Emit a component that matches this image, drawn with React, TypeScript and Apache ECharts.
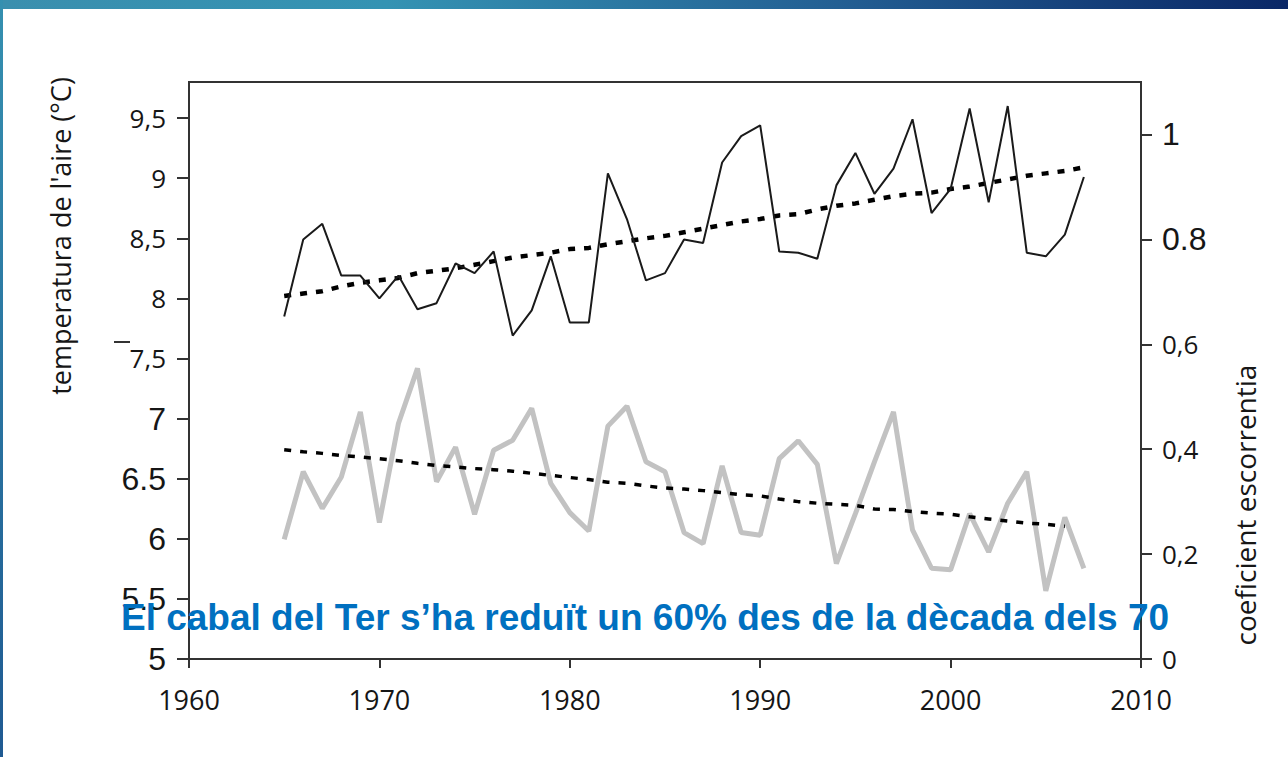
import React, { useEffect, useRef } from "react";
import * as echarts from "echarts";

const years = [
  1965, 1966, 1967, 1968, 1969, 1970, 1971, 1972, 1973, 1974, 1975, 1976, 1977, 1978, 1979,
  1980, 1981, 1982, 1983, 1984, 1985, 1986, 1987, 1988, 1989, 1990, 1991, 1992, 1993, 1994,
  1995, 1996, 1997, 1998, 1999, 2000, 2001, 2002, 2003, 2004, 2005, 2006, 2007,
];

// temperatura de l'aire (°C)
const temperature = [
  7.85, 8.49, 8.62, 8.19, 8.19, 8.0, 8.19, 7.91, 7.96, 8.29, 8.21, 8.39, 7.69, 7.9, 8.35,
  7.8, 7.8, 9.04, 8.66, 8.15, 8.21, 8.49, 8.46, 9.13, 9.35, 9.44, 8.39, 8.38, 8.33, 8.94,
  9.21, 8.87, 9.08, 9.49, 8.71, 8.91, 9.58, 8.8, 9.6, 8.38, 8.35, 8.53, 9.01,
];

const temperatureTrend = [
  8.02, 8.04, 8.06, 8.1, 8.13, 8.15, 8.17, 8.21, 8.23, 8.25, 8.28, 8.31, 8.34, 8.36, 8.38,
  8.41, 8.42, 8.45, 8.475, 8.5, 8.52, 8.55, 8.58, 8.61, 8.64, 8.66, 8.69, 8.7, 8.74, 8.77,
  8.79, 8.82, 8.85, 8.87, 8.88, 8.91, 8.93, 8.96, 8.99, 9.02, 9.04, 9.06, 9.09,
];

// coeficient escorrentia
const runoff = [
  0.228, 0.357, 0.287, 0.347, 0.471, 0.26, 0.449, 0.554, 0.338, 0.404, 0.276, 0.398, 0.417,
  0.478, 0.335, 0.279, 0.244, 0.444, 0.482, 0.376, 0.357, 0.241, 0.22, 0.368, 0.241, 0.236,
  0.382, 0.416, 0.371, 0.182, 0.277, 0.376, 0.471, 0.246, 0.173, 0.17, 0.277, 0.204, 0.297,
  0.357, 0.13, 0.27, 0.173,
];

const runoffTrend = [
  0.399, 0.395, 0.392, 0.388, 0.385, 0.382, 0.378, 0.373, 0.369, 0.366, 0.363, 0.361, 0.358,
  0.354, 0.35, 0.346, 0.342, 0.337, 0.335, 0.33, 0.326, 0.324, 0.321, 0.317, 0.313, 0.311,
  0.305, 0.3, 0.297, 0.295, 0.293, 0.286, 0.285, 0.281, 0.278, 0.276, 0.271, 0.267, 0.263,
  0.259, 0.257, 0.253,
];

const leftTicks = [5, 5.5, 6, 6.5, 7, 7.5, 8, 8.5, 9, 9.5];
const leftLabels: Record<string, string> = {
  "5.0": "{a|5}",
  "5.5": "{a|5.5}",
  "6.0": "{a|6}",
  "6.5": "{a|6.5}",
  "7.0": "{a|7}",
  "7.5": "{m|7,5}",
  "8.0": "{m|8}",
  "8.5": "{m|8,5}",
  "9.0": "{m|9}",
  "9.5": "{m|9,5}",
};
const rightTicks = [0, 0.2, 0.4, 0.6, 0.8, 1];
const rightLabels: Record<string, string> = {
  "0.0": "{m|0}",
  "0.2": "{m|0,2}",
  "0.4": "{m|0,4}",
  "0.6": "{m|0,6}",
  "0.8": "{a|0.8}",
  "1.0": "{a|1}",
};

const xTicks = [1960, 1970, 1980, 1990, 2000, 2010];

const leftAxisName = "temperatura de l'aire (°C)";
const rightAxisName = "coeficient escorrentia";
const headline = "El cabal del Ter s’ha reduït un 60% des de la dècada dels 70";

const AXIS_COLOR = "#333333";
const TEXT_COLOR = "#161616";

const rich = {
  a: { fontFamily: "Liberation Sans, Arial, sans-serif", fontSize: 32, color: TEXT_COLOR },
  m: { fontFamily: "Open Sans, sans-serif", fontSize: 26, color: TEXT_COLOR },
};

export default function App() {
  const ref = useRef<HTMLDivElement>(null);

  useEffect(() => {
    if (!ref.current) return;
    const chart = echarts.init(ref.current, undefined, { renderer: "svg" });

    const pair = (vals: number[]) => vals.map((v, i) => [years[i], v]);

    chart.setOption({
      animation: false,
      backgroundColor: "#ffffff",
      grid: {
        left: 189,
        right: 147,
        top: 82,
        bottom: 98,
        show: true,
        borderColor: AXIS_COLOR,
        borderWidth: 2,
        backgroundColor: "transparent",
      },
      xAxis: {
        type: "value",
        min: 1960,
        max: 2010,
        interval: 10,
        axisLine: { show: true, lineStyle: { color: AXIS_COLOR, width: 2 } },
        axisTick: { show: true, length: 9, lineStyle: { color: AXIS_COLOR, width: 2 }, customValues: xTicks },
        axisLabel: {
          customValues: xTicks,
          margin: 27,
          fontFamily: "Open Sans, sans-serif",
          fontSize: 27,
          color: TEXT_COLOR,
          formatter: (v: number) => String(v),
        },
        splitLine: { show: false },
      },
      yAxis: [
        {
          type: "value",
          position: "left",
          min: 5,
          max: 9.8,
          axisLine: { show: true, lineStyle: { color: AXIS_COLOR, width: 2 } },
          axisTick: { show: true, length: 12, lineStyle: { color: AXIS_COLOR, width: 2 }, customValues: leftTicks },
          axisLabel: {
            customValues: leftTicks,
            margin: 23,
            formatter: (v: number) => leftLabels[v.toFixed(1)] ?? "",
            rich,
          },
          splitLine: { show: false },
        },
        {
          type: "value",
          position: "right",
          min: 0,
          max: 1.1,
          axisLine: { show: true, lineStyle: { color: AXIS_COLOR, width: 2 } },
          axisTick: { show: true, length: 11, lineStyle: { color: AXIS_COLOR, width: 2 }, customValues: rightTicks },
          axisLabel: {
            customValues: rightTicks,
            margin: 21,
            formatter: (v: number) => rightLabels[v.toFixed(1)] ?? "",
            rich,
          },
          splitLine: { show: false },
        },
      ],
      series: [
        {
          name: "coeficient escorrentia",
          type: "line",
          yAxisIndex: 1,
          data: pair(runoff),
          showSymbol: false,
          lineStyle: { color: "#c2c2c2", width: 5 },
          z: 2,
        },
        {
          name: "tendència escorrentia",
          type: "line",
          yAxisIndex: 1,
          data: pair(runoffTrend),
          showSymbol: false,
          lineStyle: { color: "#000000", width: 3.5, type: [7, 9] },
          z: 3,
        },
        {
          name: "tendència temperatura",
          type: "line",
          yAxisIndex: 0,
          data: pair(temperatureTrend),
          showSymbol: false,
          lineStyle: { color: "#000000", width: 4.5, type: [7, 9] },
          z: 3,
        },
        {
          name: "temperatura",
          type: "line",
          yAxisIndex: 0,
          data: pair(temperature),
          showSymbol: false,
          lineStyle: { color: "#1a1a1a", width: 2 },
          z: 4,
        },
      ],
      graphic: [
        {
          type: "rect",
          left: 0,
          top: 0,
          shape: { width: 1288, height: 9 },
          style: {
            fill: new echarts.graphic.LinearGradient(0, 0, 1, 0, [
              { offset: 0, color: "#3a8fae" },
              { offset: 0.3, color: "#3493b3" },
              { offset: 0.65, color: "#235f93" },
              { offset: 1, color: "#0a2766" },
            ]),
          },
          z: 10,
        },
        {
          type: "rect",
          left: 0,
          top: 0,
          shape: { width: 3, height: 757 },
          style: {
            fill: new echarts.graphic.LinearGradient(0, 0, 0, 1, [
              { offset: 0, color: "#3590b0" },
              { offset: 1, color: "#1f5a92" },
            ]),
          },
          z: 10,
        },
        {
          type: "line",
          shape: { x1: 114, y1: 342, x2: 130, y2: 342 },
          style: { stroke: "#333333", lineWidth: 2 },
          z: 10,
        },
        {
          type: "text",
          x: 60,
          y: 236,
          rotation: Math.PI / 2,
          style: {
            text: leftAxisName,
            fontFamily: "Open Sans, sans-serif",
            fontSize: 27,
            fill: TEXT_COLOR,
            align: "center",
            verticalAlign: "middle",
          },
          z: 10,
        },
        {
          type: "text",
          x: 1245,
          y: 505,
          rotation: Math.PI / 2,
          style: {
            text: rightAxisName,
            fontFamily: "Open Sans, sans-serif",
            fontSize: 28,
            fill: TEXT_COLOR,
            align: "center",
            verticalAlign: "middle",
          },
          z: 10,
        },
        {
          type: "text",
          x: 645,
          y: 617,
          style: {
            text: headline,
            fontFamily: "Liberation Sans, Arial, sans-serif",
            fontWeight: "bold",
            fontSize: 37,
            fill: "#0070c0",
            align: "center",
            verticalAlign: "middle",
          },
          z: 20,
        },
      ],
    });

    return () => chart.dispose();
  }, []);

  return (
    <div
      ref={ref}
      style={{ position: "fixed", left: 0, top: 0, width: 1288, height: 757, background: "#fff" }}
    />
  );
}
